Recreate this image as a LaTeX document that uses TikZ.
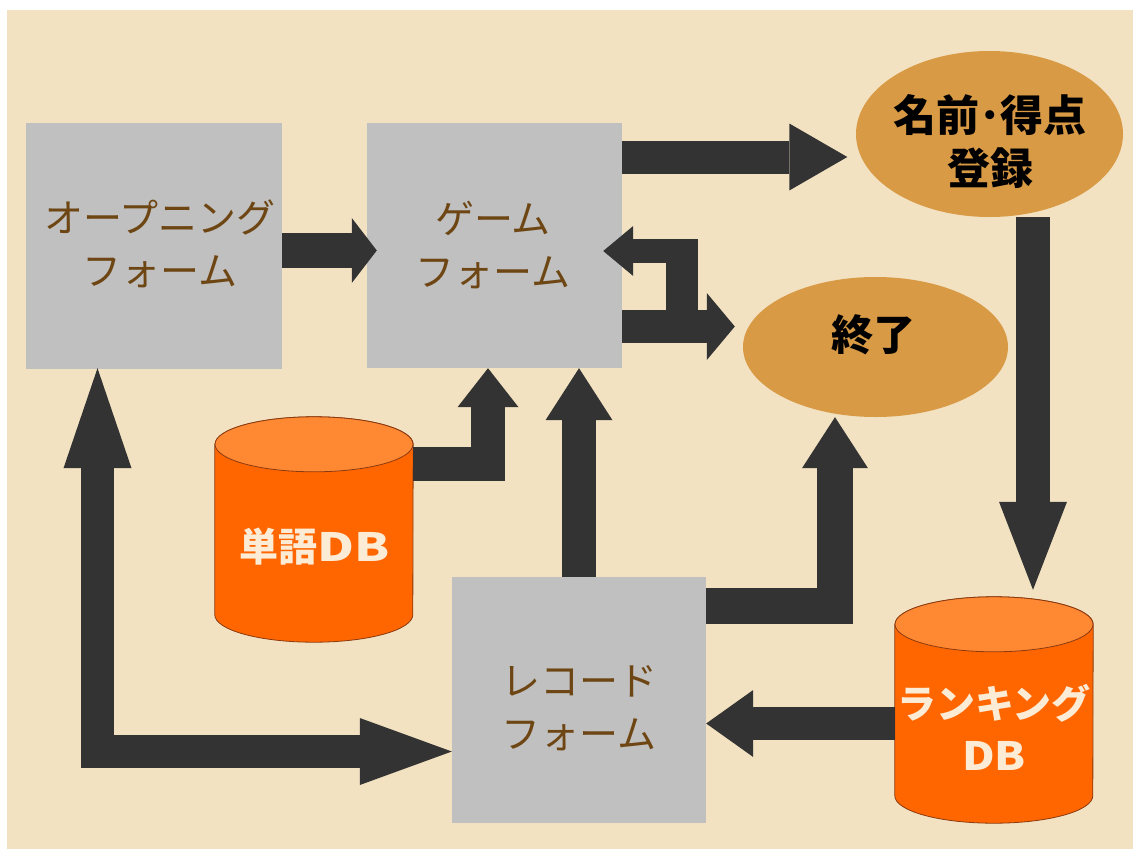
\documentclass[tikz,border=0pt]{standalone}
\usepackage{fontspec}
\newfontfamily\jp{Noto Sans CJK JP}
\usetikzlibrary{arrows.meta,calc,shapes.geometric}
\definecolor{paper}{HTML}{F2E2C2}
\definecolor{boxgray}{HTML}{C0C0C0}
\definecolor{arrowgray}{HTML}{333333}
\definecolor{ellfill}{HTML}{D99A45}
\definecolor{cylbody}{HTML}{FF6600}
\definecolor{cyltop}{HTML}{FF8833}
\definecolor{cyledge}{HTML}{8A3A10}
\definecolor{boxtext}{HTML}{6E4614}
\definecolor{cyltext}{HTML}{FCEBD5}
\begin{document}
\begin{tikzpicture}[x=1pt,y=-1pt,
  formbox/.style={rectangle, fill=boxgray, inner sep=0pt},
  oval/.style={ellipse, fill=ellfill, inner sep=0pt, minimum width=266pt},
  dbspace/.style={rectangle, inner sep=0pt, minimum width=198pt},
  formtext/.style={font=\jp\fontsize{39}{53}\selectfont, text=boxtext, align=center, inner sep=0pt},
  ovaltext/.style={font=\jp\bfseries\fontsize{43}{53}\selectfont, text=black, align=center, inner sep=0pt},
  dbtext/.style={font=\jp\bfseries\fontsize{39}{52}\selectfont, text=cyltext, align=center, inner sep=0pt},
  conn/.style={draw=arrowgray, line width=#1},
]
\useasboundingbox (0,0) rectangle (1133,849);
\fill[white] (0,0) rectangle (1133,849);
\fill[paper] (7,10) rectangle (1133,849);

% forms
\node[formbox, minimum width=256pt, minimum height=246pt] (open) at (154,246) {};
\node[formbox, minimum width=255pt, minimum height=245pt] (game) at (494.5,245.5) {};
\node[formbox, minimum width=254pt, minimum height=246pt] (rec) at (579,700) {};

% ovals
\node[oval, minimum width=267pt, minimum height=166pt] (name) at (989.5,134) {};
\node[oval, minimum width=265pt, minimum height=140pt] (end) at (875.5,347) {};

% databases
\node[dbspace, minimum height=225pt] (wdb) at (314,529.5) {};
\filldraw[fill=cylbody, draw=cyledge, line width=0.8pt]
  ($(wdb.north west)+(0,27.5)$) -- ($(wdb.south west)+(0,-27.5)$)
  arc[start angle=180, end angle=0, x radius=99, y radius=27.5]
  -- ($(wdb.north east)+(0,27.5)$)
  arc[start angle=0, end angle=-180, x radius=99, y radius=27.5] -- cycle;
\filldraw[fill=cyltop, draw=cyledge, line width=0.8pt]
  ($(wdb.north)+(0,27.5)$) ellipse[x radius=99, y radius=27.5];

\node[dbspace, minimum height=226pt] (rdb) at (994,710) {};
\filldraw[fill=cylbody, draw=cyledge, line width=0.8pt]
  ($(rdb.north west)+(0,27.5)$) -- ($(rdb.south west)+(0,-27.5)$)
  arc[start angle=180, end angle=0, x radius=99, y radius=27.5]
  -- ($(rdb.north east)+(0,27.5)$)
  arc[start angle=0, end angle=-180, x radius=99, y radius=27.5] -- cycle;
\filldraw[fill=cyltop, draw=cyledge, line width=0.8pt]
  ($(rdb.north)+(0,27.5)$) ellipse[x radius=99, y radius=27.5];

% connectors
\draw[conn=35pt, -{Triangle[length=25pt, width=65pt, line width=0pt]}]
  ($(open.east)+(0,4.5)$) -- ($(game.west)+(10,5)$);
\draw[conn=33pt, -{Triangle[length=58pt, width=67pt, line width=0pt]}]
  ($(game.east)+(0,-88.5)$) -- ($(name.west)+(-8.5,23)$);
\draw[conn=33pt, -{Triangle[length=28pt, width=67pt, line width=0pt]}]
  ($(game.east)+(0,81)$) -- ($(end.west)+(-8,-20.5)$);
\draw[conn=32pt] ($(game.east)+(60,-6.5)$) -- ($(game.east)+(60,81)$);
\draw[conn=24pt, -{Triangle[length=30pt, width=50pt, line width=0pt]}]
  ($(game.east)+(76,5.5)$) -- ($(game.east)+(-19,5.5)$);
\draw[conn=34pt, -{Triangle[length=39pt, width=61pt, line width=0pt]}]
  ($(wdb.east)+(0,-65.5)$) -| ($(game.south)+(-6.5,0)$);
\draw[conn=34pt, -{Triangle[length=52pt, width=67pt, line width=0pt]}]
  (rec.north) -- (rec.north |- game.south);
\draw[conn=36pt, -{Triangle[length=51pt, width=66pt, line width=0pt]}]
  ($(rec.east)+(0,-94)$) -| ($(end.south)+(-40.5,0)$);
\draw[conn=34pt, -{Triangle[length=88pt, width=68pt, line width=0pt]}]
  ($(name.south)+(43.5,0)$) -- ($(rdb.north)+(39,-7)$);
\draw[conn=33pt, -{Triangle[length=47pt, width=67pt, line width=0pt]}]
  ($(rdb.west)+(0,13.5)$) -- ($(rec.east)+(0,23.5)$);
\draw[conn=33pt, {Triangle[length=92pt, width=67pt, line width=0pt]}-{Triangle[length=100pt, width=68pt, line width=0pt]}]
  ($(rec.west)+(0,51.5)$) -| ($(open.south)+(-56.5,-1)$);

% texts
\node[formtext] (openT) at (160,243.5) {オープニング\\フォーム};
\node[formtext] (gameT) at (493,245) {ゲーム\\フォーム};
\node[formtext] (recT) at (579,708) {レコード\\フォーム};
\node[ovaltext] (nameT) at (990,141.5) {名前･得点\\登録};
\node[ovaltext, font=\jp\bfseries\fontsize{42}{50}\selectfont] (endT) at (873,335) {終了};
\node[dbtext] (wdbT) at (315,547) {単語\scalebox{1.3}[1]{DB}};
\node[dbtext] (rdbT) at (994,727.5) {ランキング\\\scalebox{1.15}[1]{DB}};
\end{tikzpicture}
\end{document}
